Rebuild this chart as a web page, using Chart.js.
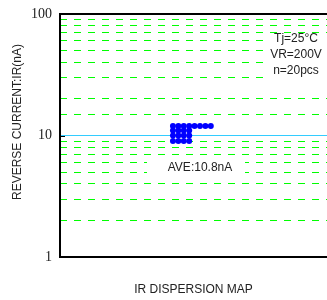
<!DOCTYPE html>
<html>
<head>
<meta charset="utf-8">
<script src="https://cdn.jsdelivr.net/npm/chart.js@4/dist/chart.umd.min.js"></script>
<style>
html,body{margin:0;padding:0;background:#fff;}
#wrap{width:327px;height:300px;position:relative;}
</style>
</head>
<body>
<div id="wrap"><canvas id="c" width="327" height="300"></canvas></div>
<script>
// ---- data ----
const irValues = [12,12,12,12,12,12,12,12,11,11,11,11,10,10,10,10,9,9,9,9]; // nA, n=20
const yTickLabels = [1, 10, 100];
const conditionNotes = ['Tj=25\u00B0C', 'VR=200V', 'n=20pcs'];
const aveLabel = 'AVE:10.8nA';
const yTitle = 'REVERSE CURRENT:IR(nA)';
const xTitle = 'IR DISPERSION MAP';

// stack equal values side by side (dispersion map)
const seen = {};
const points = irValues.map(v => {
  const col = seen[v] || 0;
  seen[v] = col + 1;
  return { x: col, y: v };
});

const overlay = {
  id: 'overlay',
  afterDatasetsDraw(chart) {
    const { ctx, chartArea: a } = chart;
    const ys = chart.scales.y;
    ctx.save();
    ctx.fillStyle = '#fff';
    ctx.fillRect(264, 35, a.right - 264, 47);
    ctx.fillRect(147, 157, 98, 21);
    ctx.fillStyle = '#222';
    ctx.font = '12px "Liberation Sans", Arial, sans-serif';
    ctx.textAlign = 'center';
    ctx.textBaseline = 'middle';
    conditionNotes.forEach((t, i) => ctx.fillText(t, 296, 39 + i * 16));
    ctx.fillText(aveLabel, 200, 167.5);
    ctx.strokeStyle = '#000';
    ctx.lineWidth = 1;
    const y10 = Math.round(ys.getPixelForValue(10)) + 0.5;
    ctx.beginPath(); ctx.moveTo(a.left, y10); ctx.lineTo(a.left + 5, y10); ctx.stroke();
    ctx.lineWidth = 2;
    ctx.beginPath();
    ctx.moveTo(a.right, a.top); ctx.lineTo(a.left, a.top);
    ctx.lineTo(a.left, a.bottom); ctx.lineTo(a.right, a.bottom);
    ctx.stroke();
    ctx.fillStyle = '#222';
    ctx.fillText(xTitle, (a.left + a.right) / 2, 290);
    ctx.translate(18, 122);
    ctx.rotate(-Math.PI / 2);
    ctx.fillText(yTitle, 0, 0);
    ctx.restore();
  }
};

new Chart(document.getElementById('c'), {
  type: 'scatter',
  data: {
    datasets: [{
      data: points,
      backgroundColor: '#0000ff',
      borderColor: '#0000ff',
      borderWidth: 0,
      pointRadius: 3,
      pointHoverRadius: 3
    }]
  },
  options: {
    responsive: false,
    animation: false,
    events: [],
    layout: { autoPadding: false, padding: { top: 14, bottom: 43, left: 0, right: 0 } },
    plugins: { legend: { display: false }, tooltip: { enabled: false } },
    scales: {
      x: { type: 'linear', display: false, min: -20.9, max: 28.5 },
      y: {
        type: 'logarithmic',
        min: 1,
        max: 100,
        afterFit(scale) {
          scale.width = 60;
          scale.paddingTop = 0; scale.paddingBottom = 0;
          scale.paddingLeft = 0; scale.paddingRight = 0;
        },
        border: {
          display: false,
          dash: ctx => (ctx.tick && ctx.tick.value === 10) ? [] : [7, 7]
        },
        grid: {
          drawTicks: false,
          lineWidth: 1,
          color: ctx => {
            const v = ctx.tick ? ctx.tick.value : 0;
            if (v === 10) return '#33ccff';
            if (v === 1 || v === 100) return 'rgba(0,0,0,0)';
            return '#00ff00';
          }
        },
        ticks: {
          autoSkip: false,
          padding: 8,
          color: '#222',
          font: { family: '"Liberation Serif", "Times New Roman", serif', size: 14 },
          callback: v => yTickLabels.includes(v) ? String(v) : ''
        }
      }
    }
  },
  plugins: [overlay]
});
</script>
</body>
</html>
